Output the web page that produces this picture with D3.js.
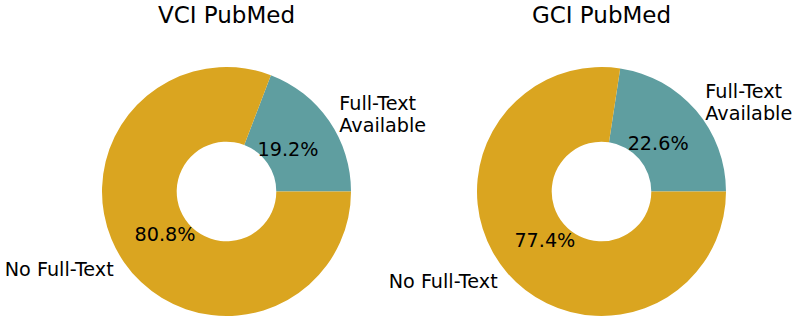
<!DOCTYPE html>
<html><head><meta charset="utf-8">
<script src="https://cdn.jsdelivr.net/npm/d3@7"></script>
<style>body{margin:0;background:#fff}svg{display:block}text{font-family:"DejaVu Sans",sans-serif;fill:#000}</style>
</head><body>
<script>
const titles = ["VCI PubMed", "GCI PubMed"];
const categories = ["Full-Text\nAvailable", "No Full-Text"];
const vciValues = [19.2, 80.8];
const gciValues = [22.6, 77.4];
const colors = ["#5F9EA0", "#DAA520"];

const W = 797, H = 321;
const svg = d3.select("body").append("svg").attr("width", W).attr("height", H);
const R = 124.5, r0 = R * 0.4;
const centers = [[226.5, 191.5], [601.5, 191.5]];
const datasets = [vciValues, gciValues];
const fs = 19.2, tfs = 23;

const arc = d3.arc().innerRadius(r0).outerRadius(R);

datasets.forEach((vals, i) => {
  const g = svg.append("g").attr("transform", `translate(${centers[i][0]},${centers[i][1]})`);
  const p = d3.pie().sort(null).value(d => d.v).startAngle(Math.PI / 2).endAngle(Math.PI / 2 - 2 * Math.PI)(vals.map((v, j) => ({v, j})));
  g.selectAll("path").data(p).join("path").attr("d", arc).attr("fill", d => colors[d.data.j]);
  p.forEach(d => {
    const m = (d.startAngle + d.endAngle) / 2;
    const sx = Math.sin(m), sy = -Math.cos(m);
    g.append("text").attr("x", sx * R * 0.6).attr("y", sy * R * 0.6).attr("dy", "0.36em")
      .attr("text-anchor", "middle").attr("font-size", fs).text(d.data.v.toFixed(1) + "%");
    const lines = categories[d.data.j].split("\n");
    const lx = sx * R * 1.1, ly = sy * R * 1.1;
    const lh = 22;
    const t = g.append("text").attr("x", lx).attr("y", ly).attr("font-size", fs)
      .attr("text-anchor", sx >= 0 ? "start" : "end");
    lines.forEach((ln, k) => {
      t.append("tspan").attr("x", lx).attr("y", ly + (k - (lines.length - 1) / 2) * lh).attr("dy", "0.36em").text(ln);
    });
  });
  svg.append("text").attr("x", centers[i][0]).attr("y", 23).attr("text-anchor", "middle")
    .attr("font-size", tfs).text(titles[i]);
});
</script>
</body></html>
